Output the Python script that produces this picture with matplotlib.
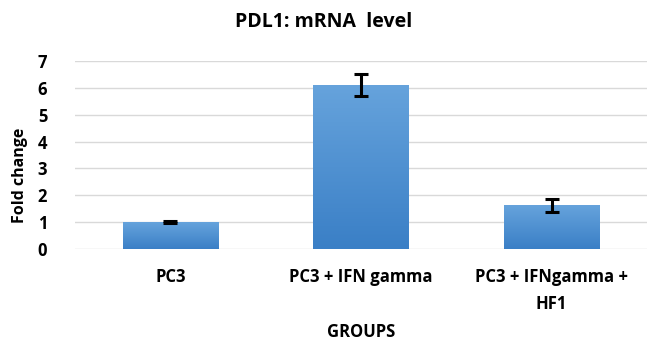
import matplotlib
matplotlib.use("Agg")
import matplotlib.pyplot as plt
import numpy as np

groups = ["PC3", "PC3 + IFN gamma", "PC3 + IFNgamma +\nHF1"]
fold_change = [1.0, 6.1, 1.63]
errors = [0.03, 0.4, 0.24]

plt.rcParams['font.family'] = ['Open Sans', 'DejaVu Sans']

fig = plt.figure(figsize=(6.47, 3.43), dpi=100)
ax = fig.add_axes([75 / 647, 94 / 343, 572 / 647, 188 / 343])

x = np.arange(len(groups))
bars = ax.bar(x, fold_change, width=0.5, color="#4a8fd3", zorder=2)

# vertical gradient on bars like the Excel original
grad = np.linspace(0, 1, 256).reshape(-1, 1)
cmap = matplotlib.colors.LinearSegmentedColormap.from_list("b", ["#3a7fc6", "#66a3dc"])
for b in bars:
    xb, yb = b.get_x(), b.get_y()
    w, h = b.get_width(), b.get_height()
    im = ax.imshow(grad, cmap=cmap, aspect="auto", origin="lower",
                   extent=[xb, xb + w, yb, yb + h], zorder=2)
    im.set_clip_path(b)

ax.errorbar(x, fold_change, yerr=errors, fmt="none", ecolor="black",
            elinewidth=2.2, capsize=5, capthick=2.2, zorder=3)

ax.set_xlim(-0.5, 2.5)
ax.set_ylim(0, 7)
ax.set_yticks(range(8))
ax.set_xticks(x)
ax.set_xticklabels(groups, fontsize=12, fontweight="bold", linespacing=1.6)
for lbl in ax.get_yticklabels():
    lbl.set_fontsize(12)
    lbl.set_fontweight("bold")
ax.tick_params(length=0)
ax.tick_params(axis="y", pad=20)
ax.tick_params(axis="x", pad=14)
ax.grid(axis="y", color="#d9d9d9", linewidth=1, zorder=0)
for s in ax.spines.values():
    s.set_visible(False)

ax.set_ylabel("Fold change", fontsize=11.5, fontweight="bold")
ax.yaxis.set_label_coords(-0.082, 0.39)
ax.set_xlabel("GROUPS", fontsize=12, fontweight="bold")
ax.xaxis.set_label_coords(0.5, -0.395)
fig.text(0.5, 1 - 22 / 343, "PDL1: mRNA  level", ha="center", va="center",
         fontsize=14, fontweight="bold")

fig.savefig("out.png", dpi=100)
